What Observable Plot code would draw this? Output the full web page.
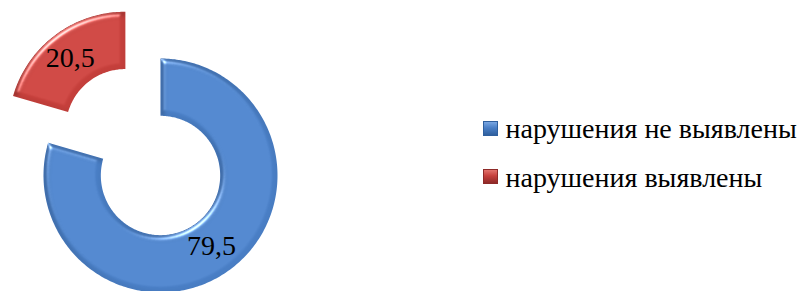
<!DOCTYPE html>
<html>
<head>
<meta charset="utf-8">
<script src="https://cdn.jsdelivr.net/npm/d3@7"></script>
<script src="https://cdn.jsdelivr.net/npm/@observablehq/plot@0.6"></script>
<style>
  html, body { margin: 0; padding: 0; background: #fff; }
  #wrap { position: relative; width: 812px; height: 291px; overflow: hidden; }
  .sw { position: absolute; left: 483px; width: 15px; height: 15px; box-sizing: border-box; }
</style>
</head>
<body>
<div id="wrap"></div>
<script>
// ---- data ----
const categories = ["нарушения не выявлены", "нарушения выявлены"];
const values = [79.5, 20.5];
const valueLabels = ["79,5", "20,5"];
const explodedCategory = "нарушения выявлены";

// ---- styling / layout ----
const FONT = "'Liberation Serif', 'DejaVu Serif', serif";
const TEXT_SCALE = 1.4;              // 20px serif glyphs drawn at 28px
const W = 812, H = 291;
const cx = 160, cy = 175, R = 117;   // pixel centre and outer radius of the ring
const hole = 0.51;                   // inner radius / outer radius
const explode = 0.5;                 // explosion distance (fraction of radius)
const baseColors = ["#4a7fc6", "#c6403c"];
const rimColors = ["#79a6e2", "#e2736c"];
const edgeColors = ["#2f5f9e", "#8e2a28"];
const legendPx = 505, legendRowPx = [129, 178], swatchTop = [121, 169];

const total = d3.sum(values);
const slices = [];
let acc = 0;
categories.forEach((cat, i) => {
  const a0 = acc / total * 2 * Math.PI;
  acc += values[i];
  const a1 = acc / total * 2 * Math.PI;
  const mid = (a0 + a1) / 2;
  const off = cat === explodedCategory ? explode : 0;
  slices.push({cat, i, a0, a1, mid, ox: off * Math.sin(mid), oy: off * Math.cos(mid), label: valueLabels[i]});
});

function ringPoints(s) {
  const pts = [];
  const n = Math.max(8, Math.ceil((s.a1 - s.a0) / (Math.PI / 180)));
  for (let k = 0; k <= n; k++) {
    const a = s.a0 + (s.a1 - s.a0) * k / n;
    pts.push({cat: s.cat, x: s.ox + Math.sin(a), y: s.oy + Math.cos(a)});
  }
  for (let k = n; k >= 0; k--) {
    const a = s.a0 + (s.a1 - s.a0) * k / n;
    pts.push({cat: s.cat, x: s.ox + hole * Math.sin(a), y: s.oy + hole * Math.cos(a)});
  }
  return pts;
}

const ring = slices.flatMap(s => ringPoints(s));
const labelPts = slices.map(s => {
  const r = (1 + hole) / 2;
  return {cat: s.cat, label: s.label, x: s.ox + r * Math.sin(s.mid), y: s.oy + r * Math.cos(s.mid)};
});
// legend entries placed in the same (radius-unit) coordinate system
const legendPts = categories.map((cat, i) => ({cat, x: (legendPx - cx) / R, y: (cy - legendRowPx[i]) / R}));

const chart = Plot.plot({
  width: W, height: H,
  margin: 0,
  style: {background: "transparent", overflow: "hidden"},
  x: {type: "linear", domain: [-cx / R, (W - cx) / R], range: [0, W], axis: null},
  y: {type: "linear", domain: [-(H - cy) / R, cy / R], range: [H, 0], axis: null},
  color: {domain: categories, range: baseColors},
  marks: [
    Plot.line(ring, {x: "x", y: "y", z: "cat", fill: "cat", stroke: "none", curve: "linear-closed"}),
    Plot.text(labelPts, {x: "x", y: "y", text: "label", fill: "#000", fontSize: 20, fontFamily: FONT, dx: -2, dy: 0}),
    Plot.text(legendPts, {x: "x", y: "y", text: "cat", textAnchor: "start", fill: "#000", fontSize: 20, fontFamily: FONT})
  ]
});

// bevel effect
const svg = d3.select(chart);
svg.insert("defs", ":first-child").html(`
  <filter id="bevel" x="-20%" y="-20%" width="140%" height="140%" color-interpolation-filters="sRGB">
    <feGaussianBlur in="SourceAlpha" stdDeviation="2.5" result="blur"/>
    <feSpecularLighting in="blur" surfaceScale="3" specularConstant="0.7" specularExponent="28" lighting-color="#ffffff" result="spec">
      <feDistantLight azimuth="235" elevation="40"/>
    </feSpecularLighting>
    <feComposite in="spec" in2="SourceAlpha" operator="in" result="specIn"/>
    <feOffset in="blur" dx="1.5" dy="2" result="offBlur"/>
    <feComposite in="SourceAlpha" in2="offBlur" operator="out" result="shadeEdge"/>
    <feGaussianBlur in="shadeEdge" stdDeviation="1.5" result="shadeBlur"/>
    <feFlood flood-color="#000" flood-opacity="0.35"/>
    <feComposite in2="shadeBlur" operator="in" result="shade"/>
    <feComposite in="shade" in2="SourceAlpha" operator="in" result="shadeIn"/>
    <feMerge result="m">
      <feMergeNode in="SourceGraphic"/>
      <feMergeNode in="shadeIn"/>
    </feMerge>
    <feComposite in="m" in2="specIn" operator="arithmetic" k1="0" k2="1" k3="1" k4="0"/>
  </filter>`);
svg.select("g[aria-label='line']").attr("filter", "url(#bevel)");

// scale label glyphs (the serif face is picked at 20px, drawn at 28px)
svg.selectAll("g[aria-label='text'] text").each(function() {
  const t = d3.select(this);
  const tr = t.attr("transform");
  if (tr && tr.includes("translate")) {
    t.attr("transform", tr + ` scale(${TEXT_SCALE})`);
  } else {
    const x = +t.attr("x") || 0, y = +t.attr("y") || 0;
    t.attr("x", null).attr("y", null);
    t.attr("transform", `translate(${x},${y}) scale(${TEXT_SCALE})` + (tr ? " " + tr : ""));
  }
});
document.getElementById("wrap").appendChild(chart);

// ---- legend swatches ----
categories.forEach((cat, i) => {
  const sw = document.createElement("div");
  sw.className = "sw";
  sw.style.top = swatchTop[i] + "px";
  sw.style.background = `linear-gradient(180deg, ${rimColors[i]} 0%, ${baseColors[i]} 45%, ${edgeColors[i]} 100%)`;
  sw.style.border = `1px solid ${edgeColors[i]}`;
  document.getElementById("wrap").appendChild(sw);
});
</script>
</body>
</html>
